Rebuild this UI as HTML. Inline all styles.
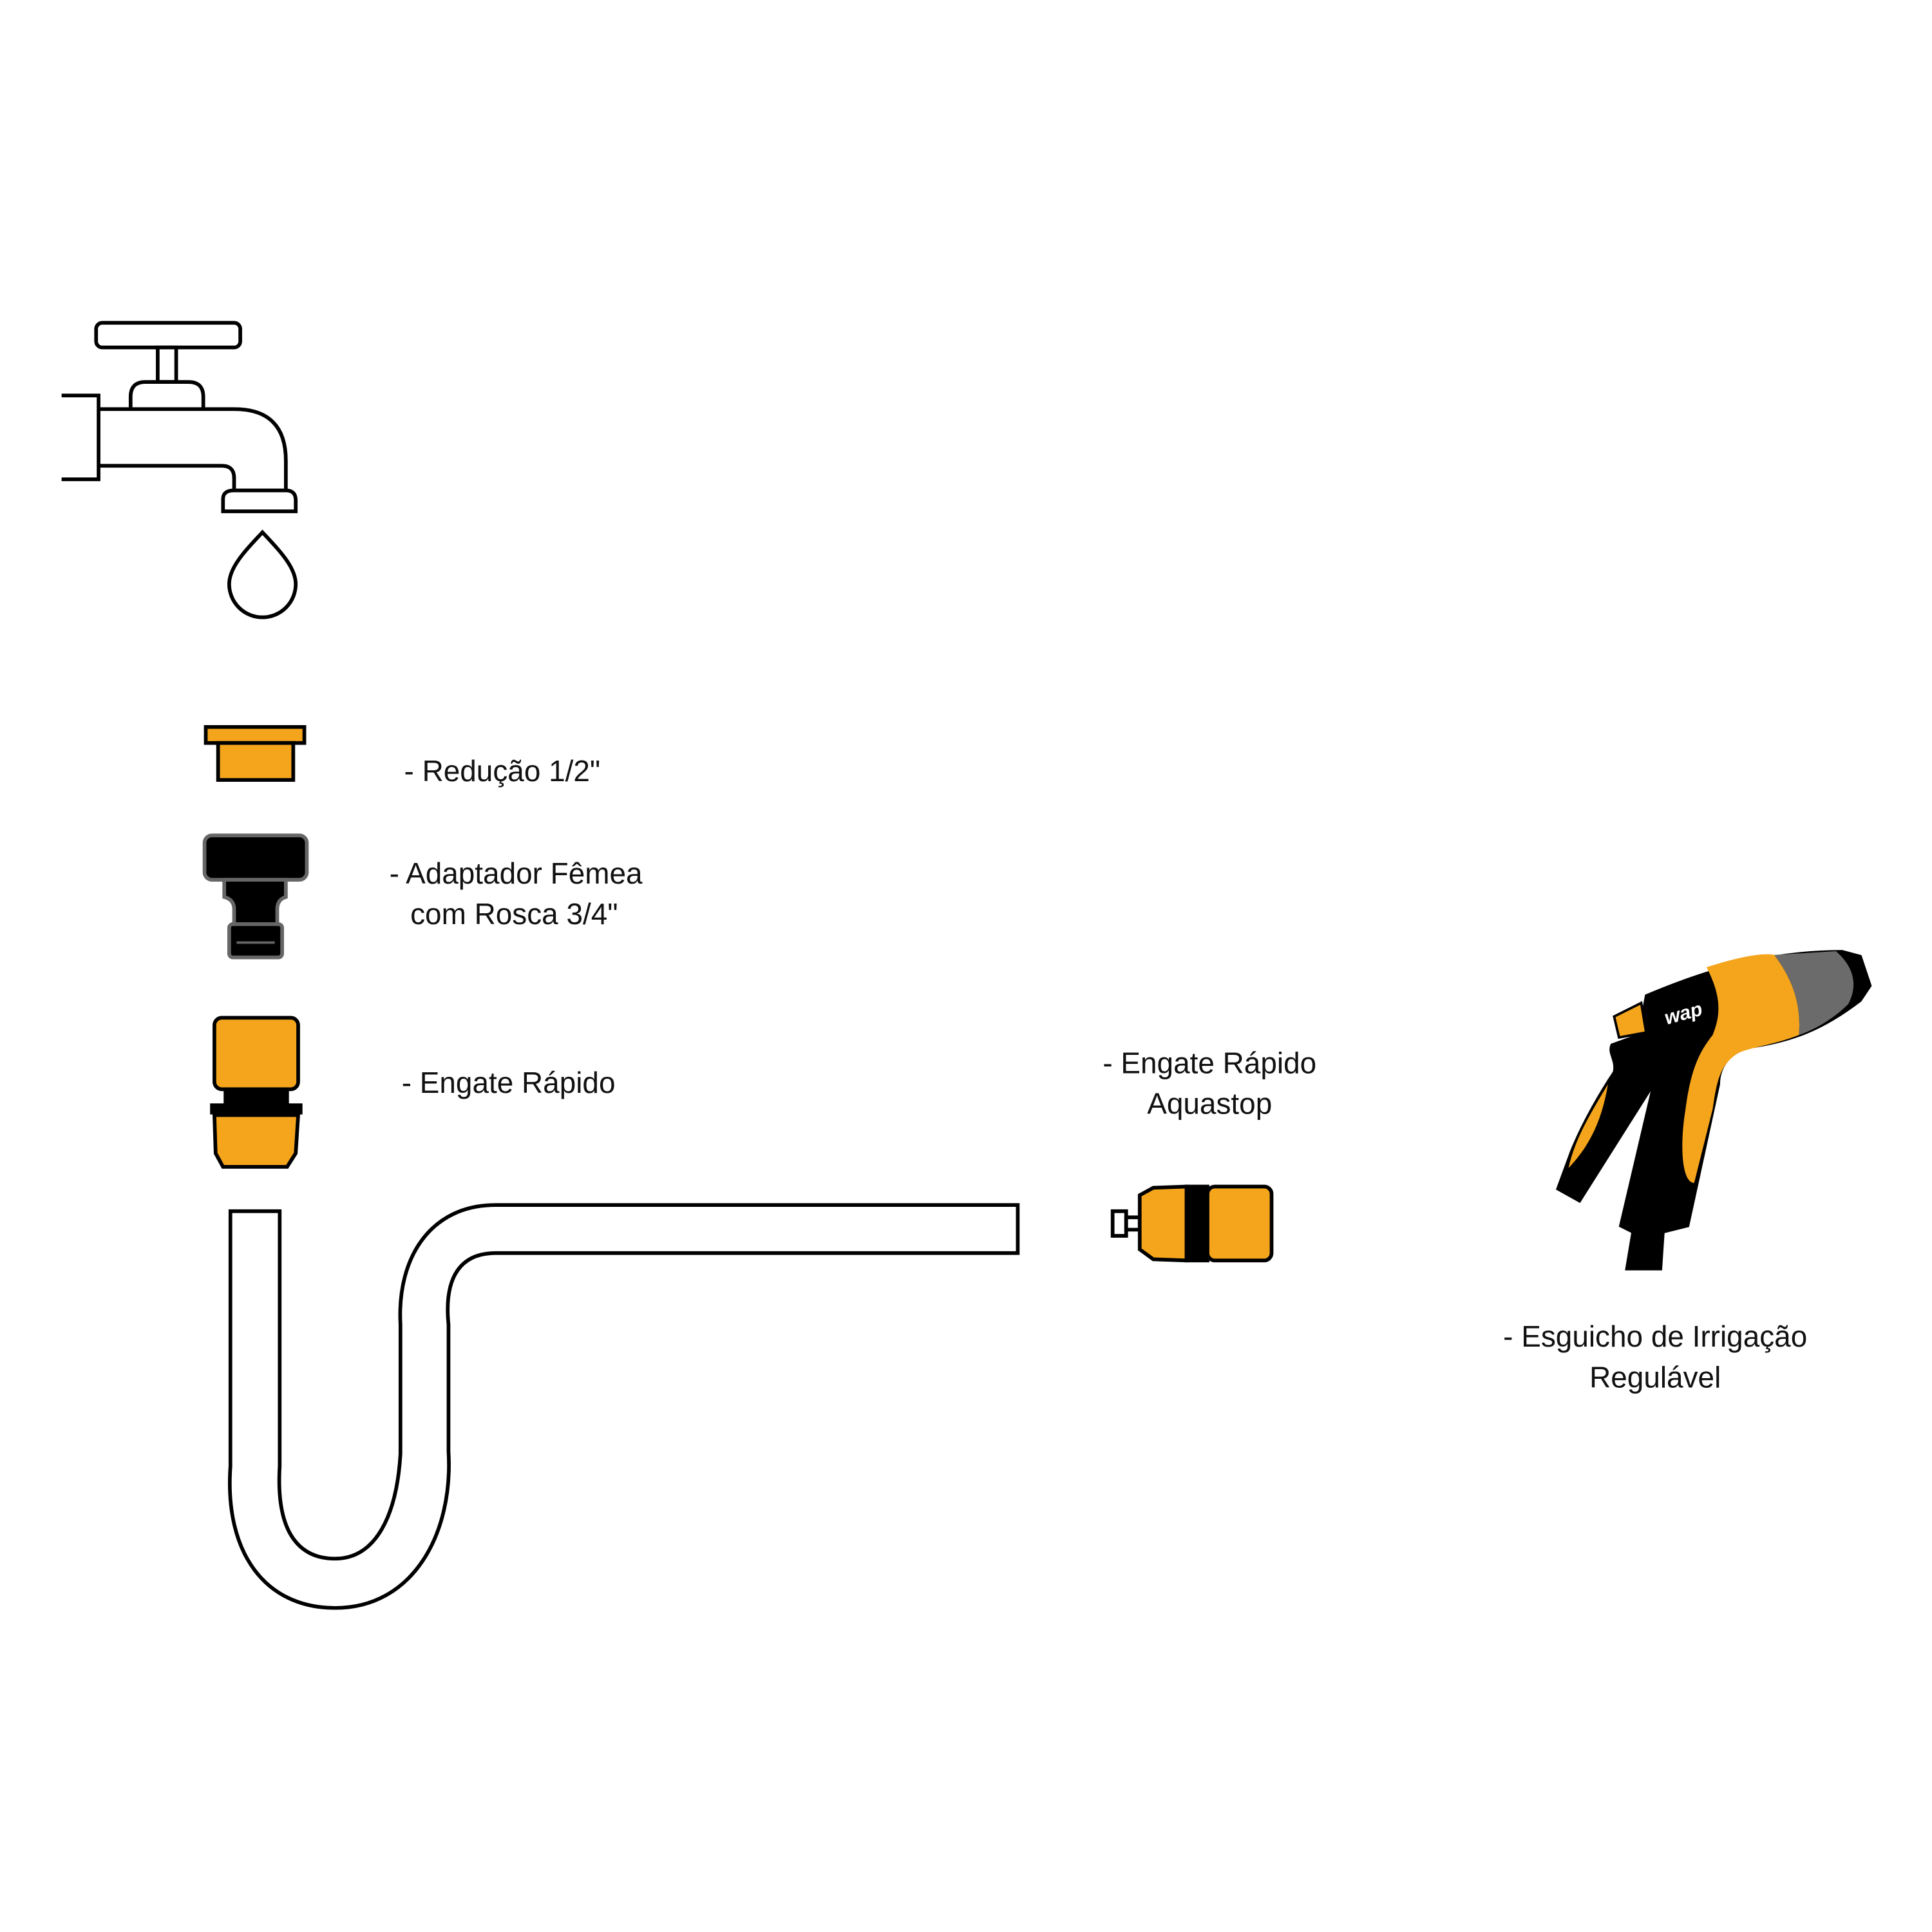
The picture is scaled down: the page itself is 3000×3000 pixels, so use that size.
<!DOCTYPE html>
<html><head><meta charset="utf-8"><style>
html,body{margin:0;padding:0;background:#fff;width:3000px;height:3000px;overflow:hidden}
svg{display:block}
text{font-family:"Liberation Sans",sans-serif;font-size:24px;fill:#111}
</style></head><body>
<svg width="3000" height="3000" viewBox="0 0 1568 1568" xmlns="http://www.w3.org/2000/svg">
<g fill="none" stroke="#000" stroke-width="3">
<rect x="78" y="262" width="117" height="20" rx="5" fill="#fff"/>
<rect x="128" y="282" width="15" height="28" fill="#fff"/>
<path d="M106 332 V322 Q106 310 118 310 H153 Q165 310 165 322 V332" fill="#fff"/>
<path d="M50 321 H80 V389 H50"/>
<path d="M80 332 H190 Q232 332 232 374 V398 M80 378 H180 Q190 378 190 388 V398"/>
<path d="M181 415 V405 Q181 398 190 398 H232 Q240 398 240 406 V415 Z" fill="#fff"/>
<path d="M213 432 C200 446 186 460 186 474 A27 27 0 0 0 240 474 C240 460 226 446 213 432 Z" fill="#fff"/>
<path d="M187 983 L187 1190 C182 1260 215 1305 272 1305 C335 1305 368 1245 364 1178 L364 1075 C360 1035 375 1017 402 1017 L826 1017 L826 978 L402 978 C350 978 322 1020 325 1075 L325 1180 C322 1230 305 1265 272 1265 C240 1265 224 1240 227 1190 L227 983 Z" fill="#fff"/>
</g>
<g stroke="#000" stroke-width="3" fill="#F5A51C">
<rect x="167" y="590" width="80" height="13"/>
<rect x="177" y="603" width="61" height="30"/>
<rect x="174" y="826" width="68" height="58" rx="6"/>
<rect x="183" y="884" width="50" height="13" fill="#000"/>
<rect x="172" y="897" width="72" height="6" fill="#000"/>
<path d="M174 905 H242 L240 936 L233 947 H181 L175 936 Z"/>
<path d="M903 983 h11 v20 h-11 z" fill="#fff"/>
<path d="M914 988 h11 v10 h-11 z" fill="#fff"/>
<path d="M925 970 L936 964 L963 963 L963 1023 L936 1022 L925 1014 Z"/>
<rect x="963" y="963" width="17" height="60" fill="#000"/>
<rect x="980" y="963" width="52" height="60" rx="6"/>
</g>
<g stroke="#666" stroke-width="3" fill="#000">
<rect x="166" y="678" width="83" height="36" rx="6"/>
<path d="M182 714 H232 V728 Q225 730 225 738 V750 H190 V738 Q190 730 182 728 Z"/>
<rect x="186" y="750" width="43" height="27" rx="3"/>
</g>
<line x1="192" y1="765" x2="223" y2="765" stroke="#666" stroke-width="2"/>
<g stroke="#000" stroke-width="2">
<path d="M1336 808 C1390 785 1440 772 1495 772 L1510 776 L1518 800 L1510 812 C1480 835 1455 845 1420 850 C1400 855 1395 870 1395 880 L1370 995 L1350 1000 L1348 1030 L1320 1030 L1325 1000 L1315 995 L1342 880 L1282 975 L1264 965 L1275 935 C1285 910 1300 885 1310 870 C1312 860 1305 855 1308 848 L1330 840 Z" fill="#000"/>
<path d="M1385 785 C1410 777 1430 773 1440 775 C1455 795 1462 815 1460 840 C1440 848 1420 850 1410 855 C1395 865 1393 880 1390 900 L1375 960 C1365 960 1363 930 1368 900 C1372 870 1378 855 1390 840 C1396 825 1398 810 1385 785 Z" fill="#F5A51C" stroke="none"/>
<path d="M1440 775 L1490 772 C1505 785 1508 800 1500 815 C1490 825 1475 835 1460 840 C1462 815 1455 795 1440 775 Z" fill="#6B6B6B" stroke="none"/>
<path d="M1310 825 L1332 814 L1336 838 L1314 842 Z" fill="#F5A51C"/>
<path d="M1305 880 C1290 905 1278 925 1273 948 C1290 930 1300 910 1305 880 Z" fill="#F5A51C" stroke="none"/>
</g>
<text x="1350" y="828" style="font-size:16px;font-style:italic;font-weight:bold;fill:#fff" transform="rotate(-15 1365 820)">wap</text>
<text x="328" y="634">- Redução 1/2"</text>
<text x="316" y="717">- Adaptador Fêmea</text>
<text x="333" y="750">com Rosca 3/4"</text>
<text x="326" y="887">- Engate Rápido</text>
<text x="895" y="871">- Engate Rápido</text>
<text x="931" y="904">Aquastop</text>
<text x="1220" y="1093">- Esguicho de Irrigação</text>
<text x="1290" y="1126">Regulável</text>
</svg>
</body></html>
